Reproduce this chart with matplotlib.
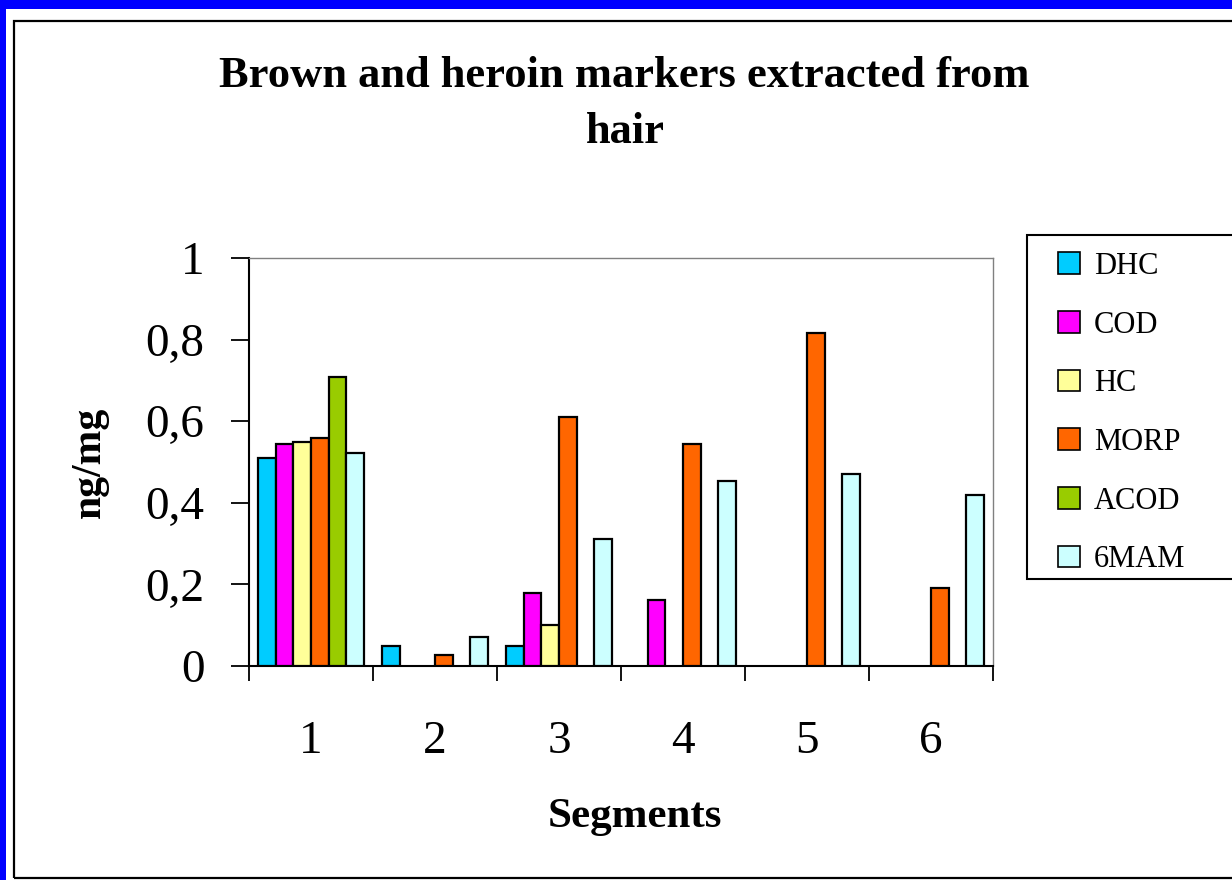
import numpy as np
import matplotlib
matplotlib.use('Agg')
import matplotlib.pyplot as plt
from matplotlib.patches import Rectangle

# -----------------------------------------------------------------------------
# Data: concentrations (ng/mg) per hair segment
# -----------------------------------------------------------------------------
segments = ['1', '2', '3', '4', '5', '6']
series_names = ['DHC', 'COD', 'HC', 'MORP', 'ACOD', '6MAM']
dhc = [0.51, 0.05, 0.05, 0.0, 0.0, 0.0]
cod = [0.543, 0.0, 0.178, 0.162, 0.0, 0.0]
hc = [0.55, 0.0, 0.10, 0.0, 0.0, 0.0]
morp = [0.56, 0.026, 0.611, 0.544, 0.815, 0.19]
acod = [0.708, 0.0, 0.0, 0.0, 0.0, 0.0]
mam6 = [0.521, 0.071, 0.312, 0.453, 0.47, 0.42]
colors = ['#00CCFF', '#FF00FF', '#FFFF99', '#FF6600', '#99CC00', '#CCFFFF']
y_ticks = [0, 0.2, 0.4, 0.6, 0.8, 1.0]
y_tick_labels = ['0', '0,2', '0,4', '0,6', '0,8', '1']

W, H = 1232, 880
plt.rcParams['font.family'] = ['Liberation Serif', 'DejaVu Serif']

fig = plt.figure(figsize=(W / 100, H / 100), dpi=100, facecolor='#0000FF')

# white slide panel and chart frame (pixel coordinates -> figure fraction)
def px(x0, y0, x1, y1):
    return (x0 / W, 1 - y1 / H), (x1 - x0) / W, (y1 - y0) / H

xy, w, h = px(6, 9, W + 10, H + 10)
fig.patches.append(Rectangle(xy, w, h, transform=fig.transFigure,
                             facecolor='white', edgecolor='none', zorder=0))
xy, w, h = px(14, 21, W + 10, 878)
fig.patches.append(Rectangle(xy, w, h, transform=fig.transFigure,
                             facecolor='none', edgecolor='black', lw=1.6, zorder=1))

ax = fig.add_axes([249 / W, 1 - 666 / H, (993 - 249) / W, (666 - 258) / H])
ax.set_zorder(3)
ax.set_facecolor('white')

all_series = [dhc, cod, hc, morp, acod, mam6]
n = len(all_series)
bw = 0.1425
x = np.arange(len(segments))
for j, (name, vals, col) in enumerate(zip(series_names, all_series, colors)):
    vals = np.asarray(vals)
    pos = x + (j - (n - 1) / 2) * bw
    keep = vals > 0
    ax.bar(pos[keep], vals[keep], width=bw, color=col, edgecolor='black',
           linewidth=1.6, zorder=3)
    # legend proxy
    ax.bar([np.nan], [np.nan], width=bw, color=col, edgecolor='black',
           linewidth=1.2, label=name)

ax.set_xlim(-0.5, len(segments) - 0.5)
ax.set_ylim(0, 1)

ax.set_yticks(y_ticks)
ax.set_yticklabels(y_tick_labels, fontsize=34)
ax.tick_params(axis='y', direction='out', length=13, width=1.3, pad=19)

ax.set_xticks(np.arange(-0.5, len(segments)), minor=False)
ax.set_xticklabels([])
ax.set_xticks(x, minor=True)
ax.set_xticklabels(segments, minor=True, fontsize=34)
ax.tick_params(axis='x', which='major', direction='out', length=11, width=1.3)
ax.tick_params(axis='x', which='minor', length=0, pad=39)

for side in ['top', 'right']:
    ax.spines[side].set_color('#808080')
    ax.spines[side].set_linewidth(1.0)
for side in ['left', 'bottom']:
    ax.spines[side].set_color('black')
    ax.spines[side].set_linewidth(1.5)

# titles and axis labels
fig.text(624 / W, 1 - 87 / H, 'Brown and heroin markers extracted from',
         ha='center', va='baseline', fontsize=32, fontweight='bold')
fig.text(625 / W, 1 - 143 / H, 'hair',
         ha='center', va='baseline', fontsize=32, fontweight='bold')
fig.text(90 / W, 1 - 462 / H, 'ng/mg', rotation=90, ha='center', va='center',
         fontsize=30, fontweight='bold')
fig.text(635 / W, 1 - 827 / H, 'Segments', ha='center', va='baseline',
         fontsize=31, fontweight='bold')

# legend box
xy, w, h = px(1027, 235, W + 10, 579)
fig.patches.append(Rectangle(xy, w, h, transform=fig.transFigure,
                             facecolor='white', edgecolor='black', lw=1.5, zorder=1))
handles, labels = ax.get_legend_handles_labels()
leg = fig.legend(handles, labels, loc='upper left',
                 bbox_to_anchor=(1058 / W, 1 - 252 / H),
                 frameon=False, fontsize=22, handlelength=0.72,
                 handleheight=0.72, handletextpad=0.45, labelspacing=0.97,
                 borderpad=0, borderaxespad=0)
leg.set_zorder(4)

fig.savefig('out.png', dpi=100, facecolor=fig.get_facecolor())
